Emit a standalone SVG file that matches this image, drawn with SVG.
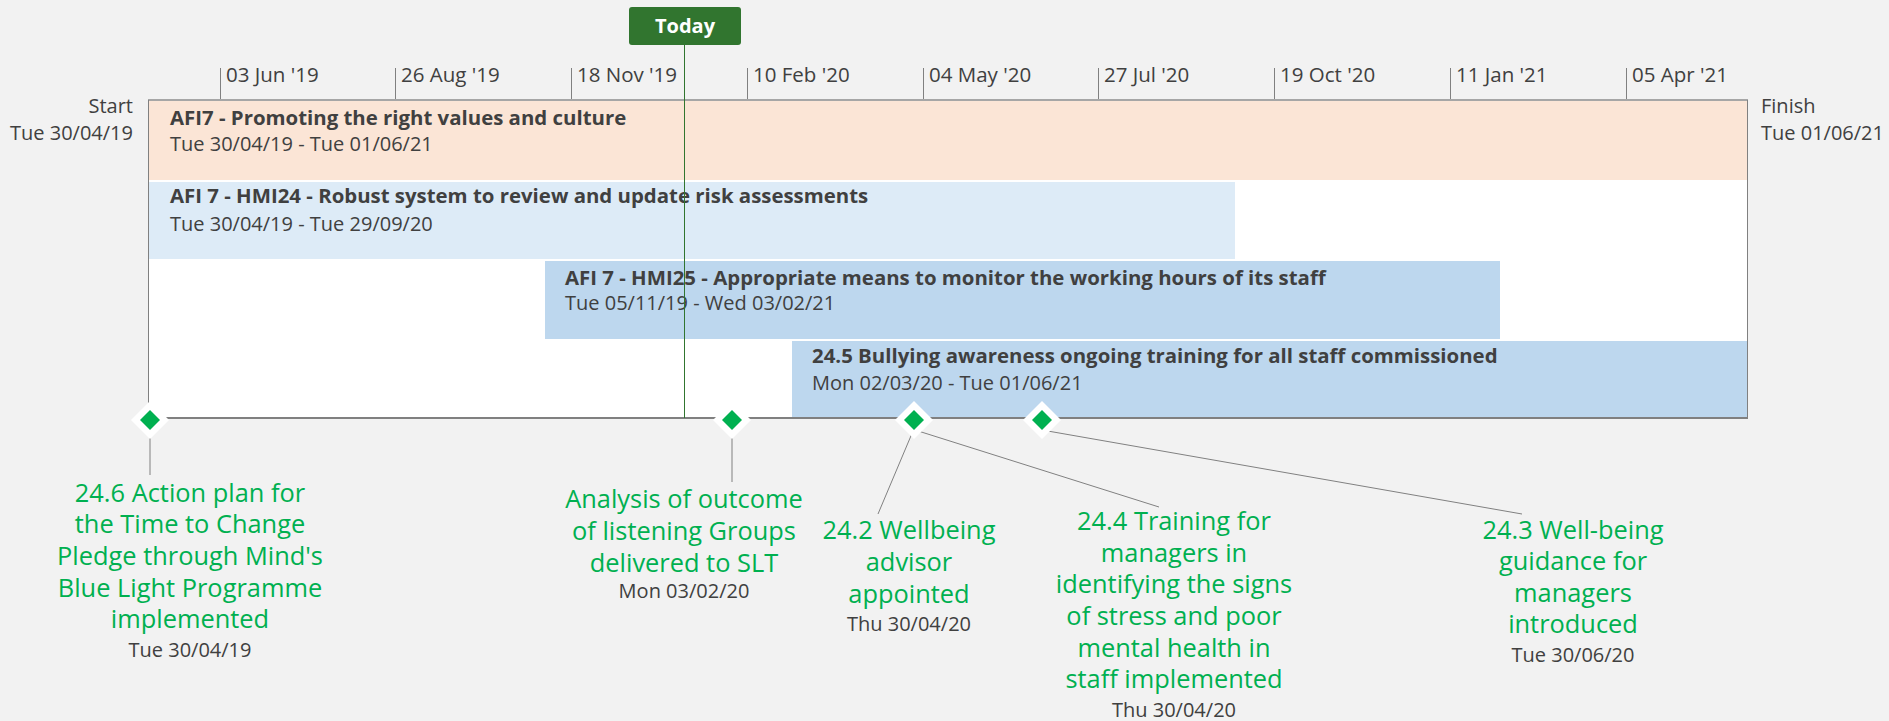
<svg xmlns="http://www.w3.org/2000/svg" width="1889" height="721" viewBox="0 0 1889 721">
<style>
text{font-family:"Open Sans","Noto Sans",sans-serif;}
.tick{stroke:#808080;stroke-width:1}
.tl{font-size:20.5px;fill:#404040}
.side{font-size:20px;fill:#404040}
.bt{font-size:20.4px;font-weight:700;fill:#404040}
.bd{font-size:20px;fill:#404040}
.ml{font-size:25.4px;fill:#00B050;text-anchor:middle}
.md{font-size:20px;fill:#404040;text-anchor:middle}
.halo{fill:#ffffff}
.dia{fill:#00B050}
.lead{stroke:#808080;stroke-width:1;fill:none}
</style>
<rect x="0" y="0" width="1889" height="721" fill="#F2F2F2"/>
<g id="timescale">
<line class="tick" x1="220.5" y1="68" x2="220.5" y2="100"/><text class="tl" x="226" y="82">03 Jun '19</text>
<line class="tick" x1="395.5" y1="68" x2="395.5" y2="100"/><text class="tl" x="401" y="82">26 Aug '19</text>
<line class="tick" x1="571.5" y1="68" x2="571.5" y2="100"/><text class="tl" x="577" y="82">18 Nov '19</text>
<line class="tick" x1="747.5" y1="68" x2="747.5" y2="100"/><text class="tl" x="753" y="82">10 Feb '20</text>
<line class="tick" x1="923.5" y1="68" x2="923.5" y2="100"/><text class="tl" x="929" y="82">04 May '20</text>
<line class="tick" x1="1098.5" y1="68" x2="1098.5" y2="100"/><text class="tl" x="1104" y="82">27 Jul '20</text>
<line class="tick" x1="1274.5" y1="68" x2="1274.5" y2="100"/><text class="tl" x="1280" y="82">19 Oct '20</text>
<line class="tick" x1="1450.5" y1="68" x2="1450.5" y2="100"/><text class="tl" x="1456" y="82">11 Jan '21</text>
<line class="tick" x1="1626.5" y1="68" x2="1626.5" y2="100"/><text class="tl" x="1632" y="82">05 Apr '21</text>
</g>
<g id="chart-area">
<rect x="148.5" y="100" width="1599" height="318" fill="#FFFFFF"/>
<line x1="148" y1="100" x2="1748" y2="100" stroke="#A6A6A6" stroke-width="2"/>
<line x1="148.5" y1="100" x2="148.5" y2="418" stroke="#808080" stroke-width="1"/>
<line x1="1747.5" y1="100" x2="1747.5" y2="418" stroke="#808080" stroke-width="1"/>
</g>
<g id="start-label">
<text class="side" x="133" y="113" text-anchor="end">Start</text>
<text class="side" x="133" y="140" text-anchor="end">Tue 30/04/19</text>
</g>
<g id="finish-label">
<text class="side" x="1761" y="113">Finish</text>
<text class="side" x="1761" y="140">Tue 01/06/21</text>
</g>
<g id="task-afi7">
<rect x="149" y="101" width="1598" height="79" fill="#FBE5D6"/>
<text class="bt" x="170" y="125">AFI7 - Promoting the right values and culture</text>
<text class="bd" x="170" y="151">Tue 30/04/19 - Tue 01/06/21</text>
</g>
<g id="task-hmi24">
<rect x="149" y="182" width="1086" height="77" fill="#DDEBF7"/>
<text class="bt" x="170" y="203">AFI 7 - HMI24 - Robust system to review and update risk assessments</text>
<text class="bd" x="170" y="231">Tue 30/04/19 - Tue 29/09/20</text>
</g>
<g id="task-hmi25">
<rect x="545" y="261" width="955" height="78" fill="#BDD7EE"/>
<text class="bt" x="565" y="285">AFI 7 - HMI25 - Appropriate means to monitor the working hours of its staff</text>
<text class="bd" x="565" y="310">Tue 05/11/19 - Wed 03/02/21</text>
</g>
<g id="task-245">
<rect x="792" y="341" width="955" height="77" fill="#BDD7EE"/>
<text class="bt" x="812" y="363">24.5 Bullying awareness ongoing training for all staff commissioned</text>
<text class="bd" x="812" y="390">Mon 02/03/20 - Tue 01/06/21</text>
</g>
<line x1="148" y1="418" x2="1748" y2="418" stroke="#808080" stroke-width="2"/>
<g id="today">
<line x1="684.5" y1="45" x2="684.5" y2="418" stroke="#31752F" stroke-width="1"/>
<rect x="629" y="7" width="112" height="38" rx="3" fill="#31752F"/>
<text x="685" y="33" font-size="20" font-weight="700" fill="#FFFFFF" text-anchor="middle">Today</text>
</g>
<g id="connectors">
<line class="lead" x1="150" y1="430" x2="150" y2="475"/>
<line class="lead" x1="732" y1="430" x2="732" y2="482"/>
<line class="lead" x1="913" y1="431" x2="878" y2="514"/>
<line class="lead" x1="915" y1="430" x2="1159" y2="507"/>
<line class="lead" x1="1042" y1="430" x2="1522" y2="514"/>
</g>
<g id="ms-246">
<polygon class="halo" points="150,401 169,420 150,439 131,420"/>
<polygon class="dia" points="150,410 160,420 150,430 140,420"/>
<text class="ml"><tspan x="190" y="502">24.6 Action plan for</tspan><tspan x="190" y="533">the Time to Change</tspan><tspan x="190" y="565">Pledge through Mind's</tspan><tspan x="190" y="597">Blue Light Programme</tspan><tspan x="190" y="628">implemented</tspan></text>
<text class="md" x="190" y="657">Tue 30/04/19</text>
</g>
<g id="ms-analysis">
<polygon class="halo" points="732,401 751,420 732,439 713,420"/>
<polygon class="dia" points="732,410 742,420 732,430 722,420"/>
<text class="ml"><tspan x="684" y="508">Analysis of outcome</tspan><tspan x="684" y="540">of listening Groups</tspan><tspan x="684" y="572">delivered to SLT</tspan></text>
<text class="md" x="684" y="598">Mon 03/02/20</text>
</g>
<g id="ms-242-244">
<polygon class="halo" points="914,401 933,420 914,439 895,420"/>
<polygon class="dia" points="914,410 924,420 914,430 904,420"/>
</g>
<g id="ms-242-label">
<text class="ml"><tspan x="909" y="539">24.2 Wellbeing</tspan><tspan x="909" y="571">advisor</tspan><tspan x="909" y="603">appointed</tspan></text>
<text class="md" x="909" y="631">Thu 30/04/20</text>
</g>
<g id="ms-244-label">
<text class="ml"><tspan x="1174" y="530">24.4 Training for</tspan><tspan x="1174" y="562">managers in</tspan><tspan x="1174" y="593">identifying the signs</tspan><tspan x="1174" y="625">of stress and poor</tspan><tspan x="1174" y="657">mental health in</tspan><tspan x="1174" y="688">staff implemented</tspan></text>
<text class="md" x="1174" y="717">Thu 30/04/20</text>
</g>
<g id="ms-243">
<polygon class="halo" points="1042,401 1061,420 1042,439 1023,420"/>
<polygon class="dia" points="1042,410 1052,420 1042,430 1032,420"/>
<text class="ml"><tspan x="1573" y="539">24.3 Well-being</tspan><tspan x="1573" y="570">guidance for</tspan><tspan x="1573" y="602">managers</tspan><tspan x="1573" y="633">introduced</tspan></text>
<text class="md" x="1573" y="662">Tue 30/06/20</text>
</g>
</svg>
